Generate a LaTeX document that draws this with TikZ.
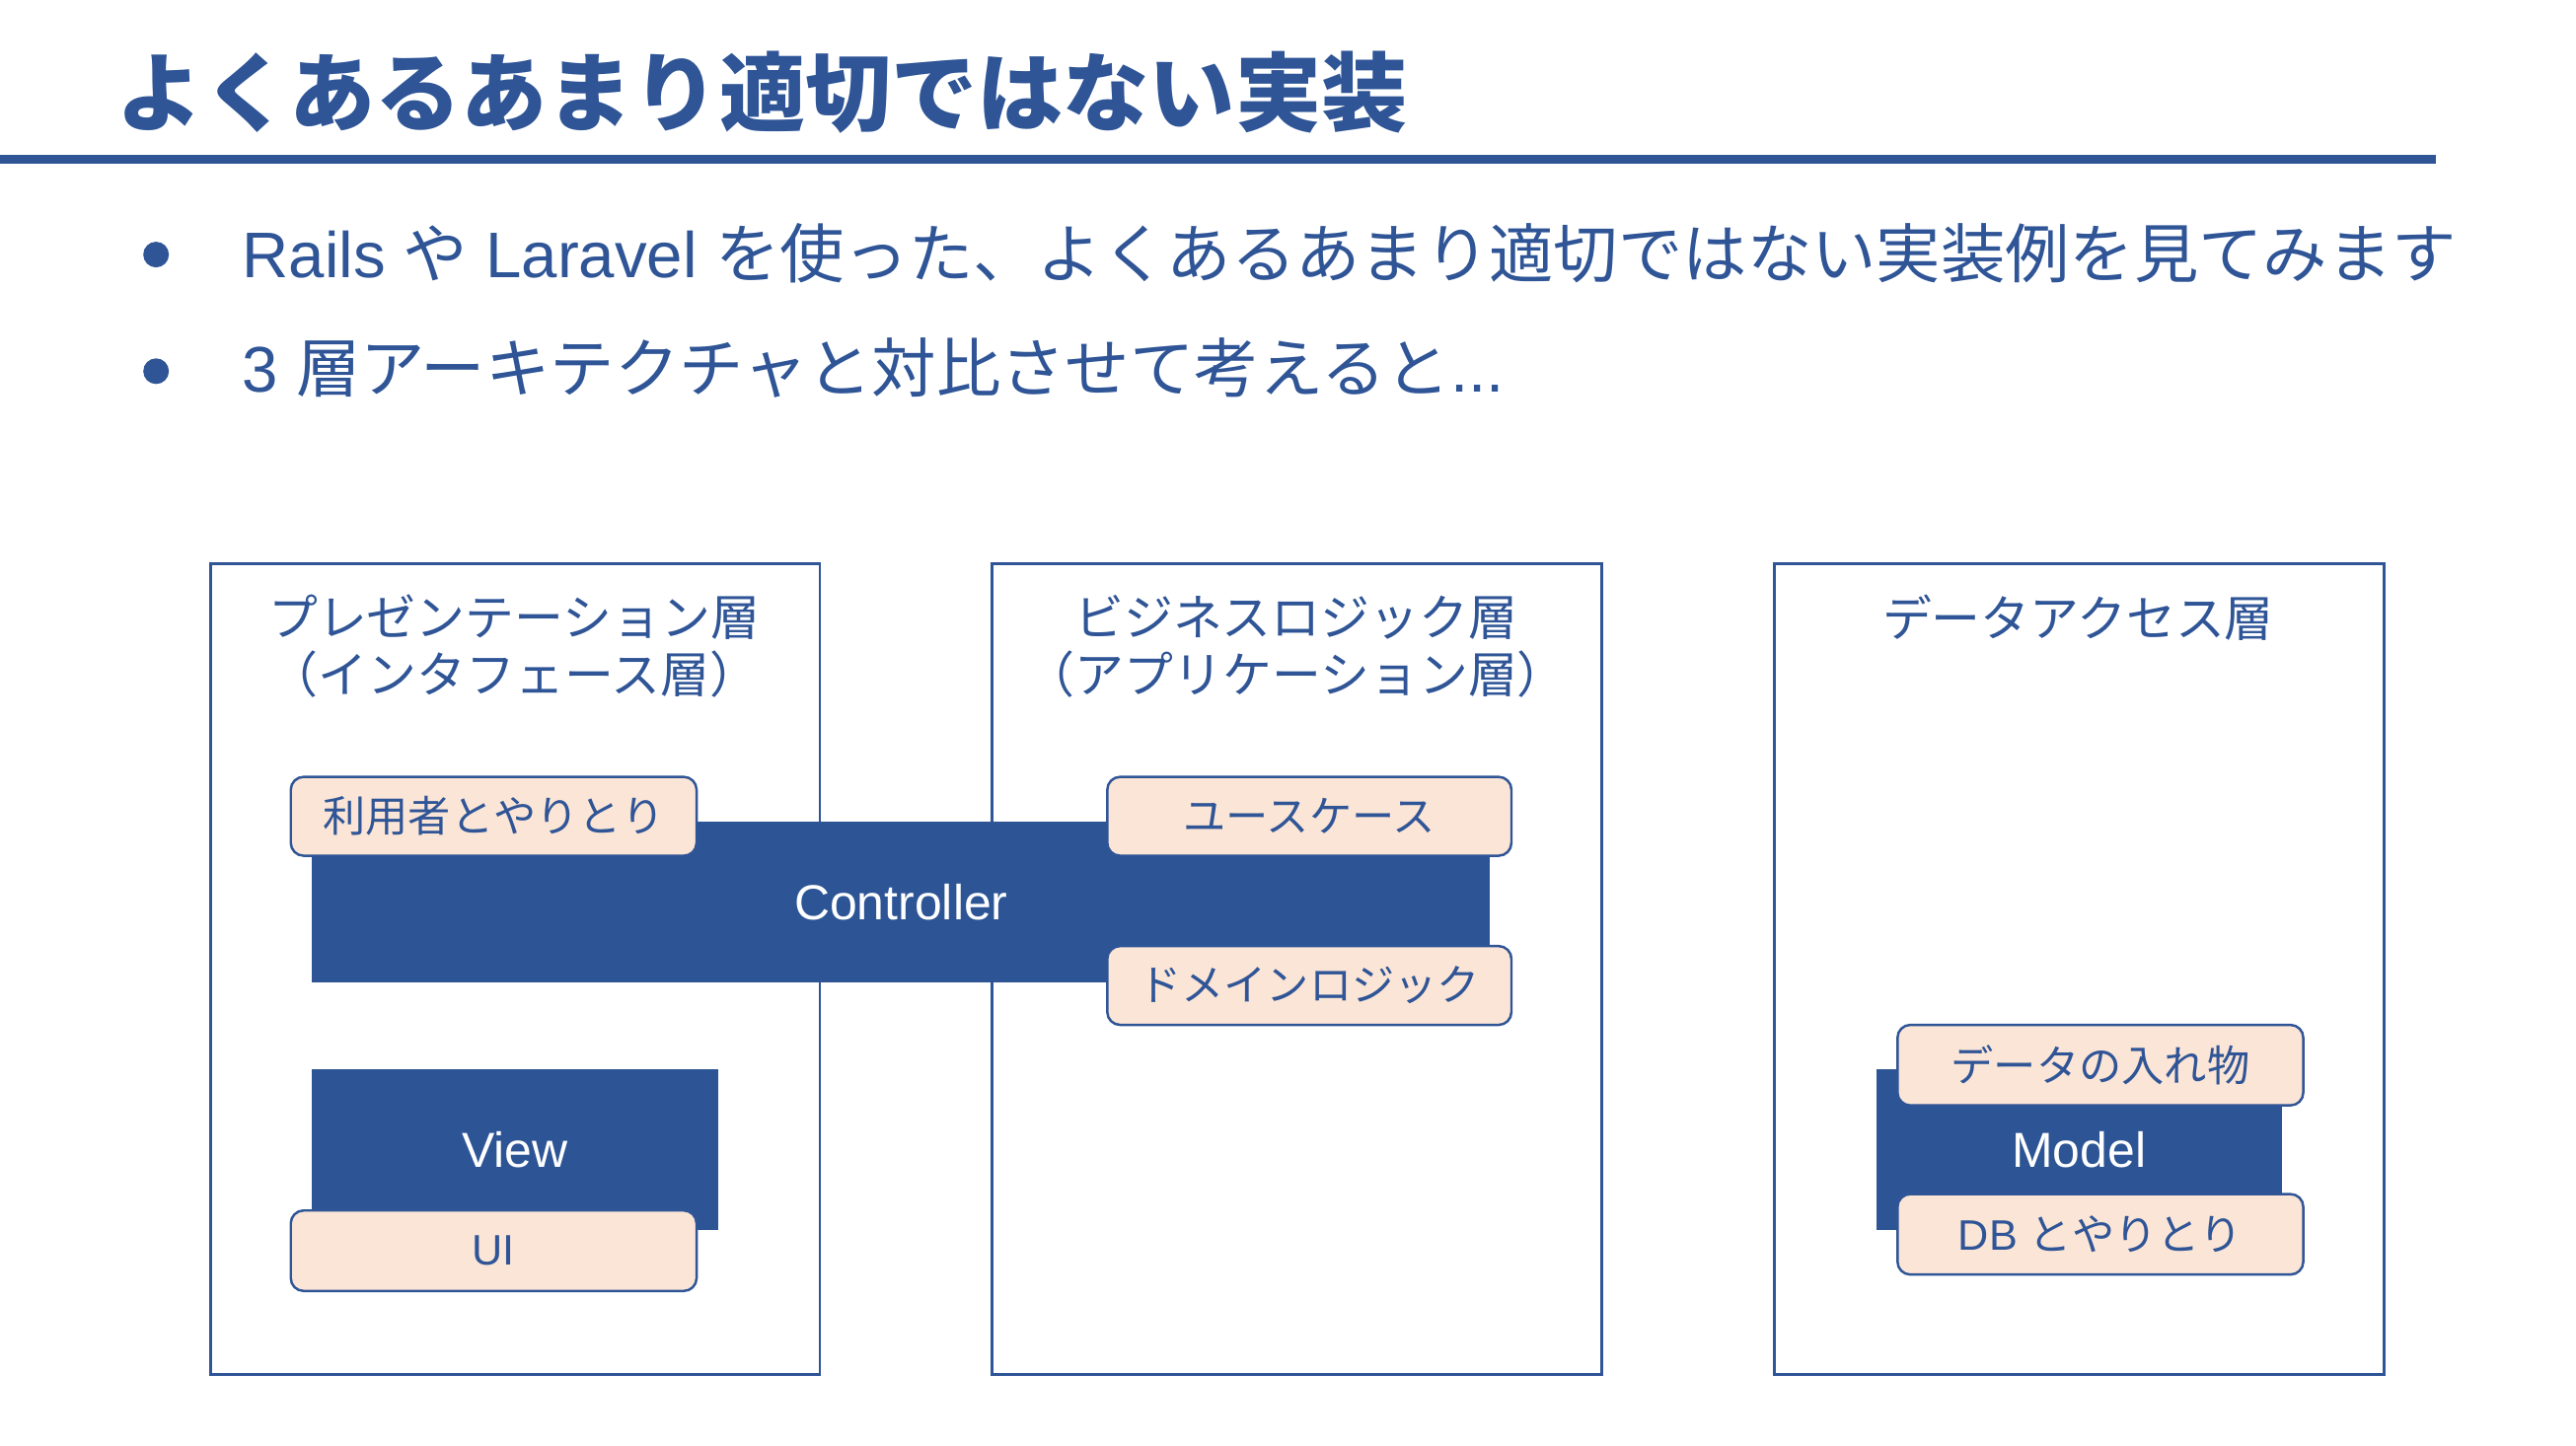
\documentclass[tikz,border=0pt]{standalone}
\usepackage{fontspec}
\usetikzlibrary{fit}
\setmainfont{Liberation Sans}
\newfontfamily\jp{Noto Sans CJK JP}
\definecolor{ink}{RGB}{47,85,151}
\definecolor{navy}{RGB}{45,85,150}
\definecolor{peach}{RGB}{251,229,214}

% narrow full-width brackets
\newcommand\lbrk{\makebox[.55em][r]{（}}
\newcommand\rbrk{\makebox[.55em][l]{）}}

\tikzset{
  layerbox/.style={draw=ink, line width=0.8pt, fill=white, inner sep=0pt},
  layertitle/.style={text=ink, align=center, inner sep=0pt,
    font=\jp\fontsize{14.2pt}{16.6pt}\selectfont},
  core/.style={fill=navy, draw=none, inner sep=0pt},
  corelabel/.style={text=white, inner sep=0pt,
    font=\rmfamily\fontsize{14.2pt}{17pt}\selectfont},
  role/.style={draw=ink, line width=0.7pt, fill=peach, rounded corners=1.3mm, inner sep=0pt},
  rolelabel/.style={text=ink, inner sep=0pt,
    font=\jp\fontsize{12.3pt}{15pt}\selectfont},
  bullettext/.style={text=ink, anchor=west, inner sep=0pt,
    font=\jp\fontsize{18.6pt}{22pt}\selectfont},
  bulletdot/.style={circle, fill=ink, inner sep=0pt, minimum size=2.6mm},
}

\begin{document}
\begin{tikzpicture}[x=0.16652mm, y=-0.16652mm]
  \useasboundingbox (0,0) rectangle (1568,880);
  \fill[white] (0,0) rectangle (1568,880);

  % heading and rule
  \node[text=ink, anchor=west, inner sep=0pt,
        font=\jp\bfseries\fontsize{24.8pt}{30pt}\selectfont] (title) at (71,56) {よくあるあまり適切ではない実装};
  \fill[ink] (0,94.5) rectangle (1483,99.5);

  % bullet points
  \node[bulletdot] (d1) at (95,155) {};
  \node[bullettext] (b1) at (147,154) {{\rmfamily Rails }や{\rmfamily{} Laravel }を使った、よくあるあまり適切ではない実装例を見てみます};
  \node[bulletdot] (d2) at (95,226) {};
  \node[bullettext] (b2) at (147,224) {{\rmfamily 3 }層アーキテクチャと対比させて考えると{\rmfamily ...}};

  % the three layers
  \node[layerbox, fit={(128,343) (499,837)}] (pres) {};
  \node[layerbox, fit={(604,343) (975,837)}] (biz) {};
  \node[layerbox, fit={(1080,343) (1451,837)}] (data) {};

  \node[layertitle] (prest) at (313,393.5) {プレゼンテーション層\\\lbrk インタフェース層\rbrk};
  \node[layertitle] (bizt) at (789,393.5) {ビジネスロジック層\\\lbrk アプリケーション層\rbrk};
  \node[layertitle] (datat) at (1265,376) {データアクセス層};

  % Controller spanning presentation and business layers
  \node[core, fit={(190,500) (907,598)}] (ctrl) {};
  \node[corelabel] at (ctrl.center) {Controller};
  \node[role, fit={(177,473) (424,521)}] (user) {};
  \node[rolelabel] at (user.center) {利用者とやりとり};
  \node[role, fit={(674,473) (920,521)}] (usecase) {};
  \node[rolelabel] at (usecase.center) {ユースケース};
  \node[role, fit={(674,576) (920,624)}] (domain) {};
  \node[rolelabel] at (domain.center) {ドメインロジック};

  % View
  \node[core, fit={(190,651) (437,749)}] (view) {};
  \node[corelabel] at (view.center) {View};
  \node[role, fit={(177,737) (424,786)}] (ui) {};
  \node[rolelabel, font=\rmfamily\fontsize{12.3pt}{15pt}\selectfont] at (ui.center) {UI};

  % Model
  \node[core, fit={(1142,651) (1389,749)}] (model) {};
  \node[corelabel] at (model.center) {Model};
  \node[role, fit={(1155,624) (1402,673)}] (store) {};
  \node[rolelabel] at (store.center) {データの入れ物};
  \node[role, fit={(1155,727) (1402,776)}] (db) {};
  \node[rolelabel] at (db.center) {{\rmfamily DB }とやりとり};
\end{tikzpicture}
\end{document}
